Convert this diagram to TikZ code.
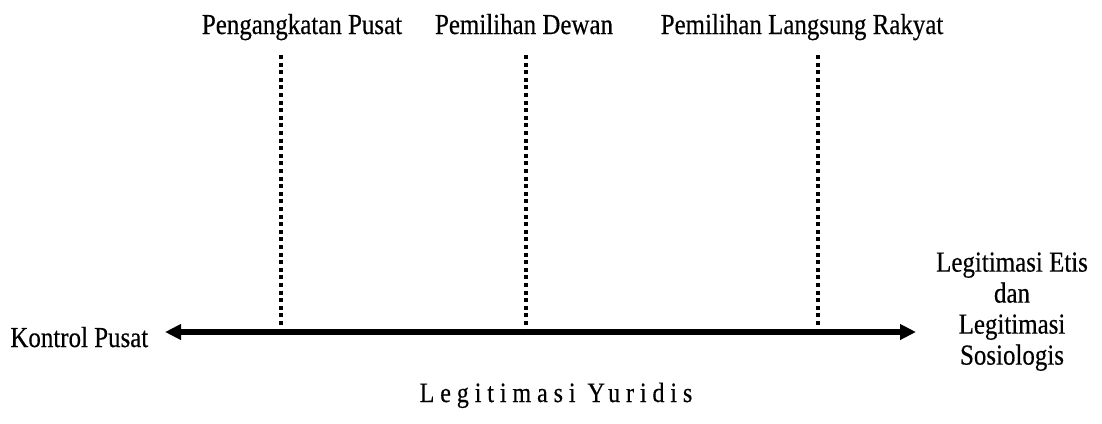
\documentclass[tikz,border=0pt]{standalone}
\usepackage{fontspec}
\setmainfont{Liberation Serif}[FakeStretch=0.86,FakeBold=0.4]
\usetikzlibrary{arrows.meta}
\begin{document}
\begin{tikzpicture}[x=0.5pt,y=-0.5pt,
  lbl/.style={font=\fontsize{14.5}{15.5}\selectfont, inner sep=0pt},
  axis/.style={line width=2.6pt, {Triangle[length=8pt,width=7.5pt]}-{Triangle[length=8pt,width=7.5pt]}},
  dots/.style={line width=2pt, dash pattern=on 2pt off 1.8pt}]
\useasboundingbox (0,0) rectangle (1102,423);
\node[lbl, anchor=base] (pp) at (302,34) {Pengangkatan Pusat};
\node[lbl, anchor=base] (pd) at (524,34) {Pemilihan Dewan};
\node[lbl, anchor=base] (pl) at (802,34) {Pemilihan Langsung Rakyat};
\node[lbl, anchor=base west] (kp) at (10,347) {Kontrol Pusat};
\node[lbl, align=center, anchor=north] (le) at (1012,252) {Legitimasi Etis\\dan\\Legitimasi\\Sosiologis};
\node[lbl, font=\fontsize{14}{15.5}\selectfont, anchor=base] (ly) at (556,402) {\addfontfeature{LetterSpace=21}Legitimasi Yuridis};
\coordinate (al) at (165,332);
\coordinate (ar) at (916,332);
\coordinate (t1) at (281,55);
\coordinate (t2) at (526,55);
\coordinate (t3) at (818,55);
\coordinate (b1) at (281,330);
\coordinate (b2) at (526,330);
\coordinate (b3) at (818,330);
\draw[dots] (t1) -- (b1);
\draw[dots] (t2) -- (b2);
\draw[dots] (t3) -- (b3);
\draw[axis] (al) -- (ar);
\end{tikzpicture}
\end{document}
